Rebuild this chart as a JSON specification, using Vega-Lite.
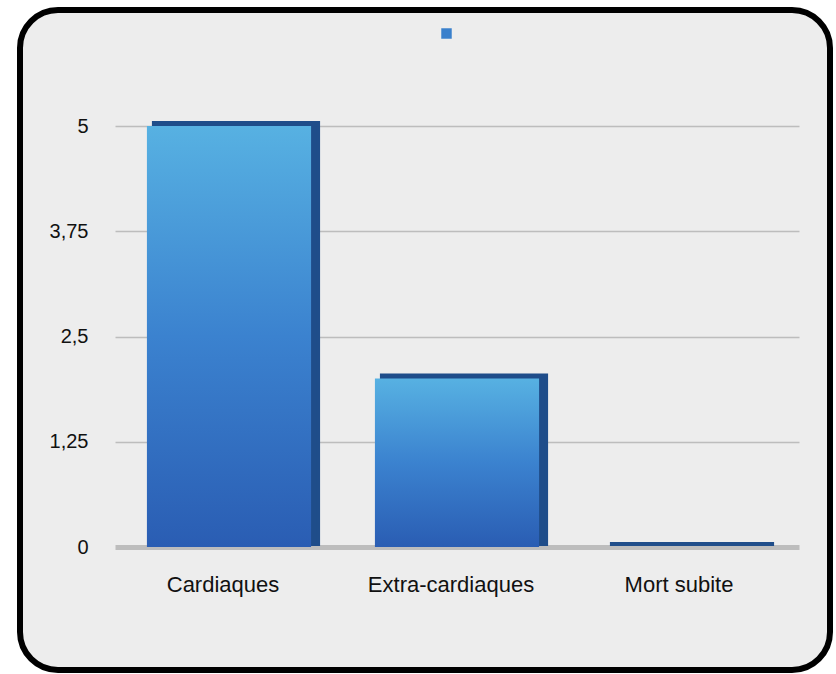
{
  "$schema": "https://vega.github.io/schema/vega-lite/v6.json",
  "width": 810,
  "height": 660,
  "autosize": {"type": "none"},
  "padding": {"left": 20, "top": 10, "right": 6, "bottom": 4},
  "background": "#ffffff",
  "config": {
    "font": "Liberation Sans",
    "view": {"fill": "#ededed", "stroke": "#000000", "strokeWidth": 6, "cornerRadius": 38}
  },
  "data": {
    "values": [
      {"categorie": "Cardiaques", "valeur": 5, "serie": ""},
      {"categorie": "Extra-cardiaques", "valeur": 2, "serie": ""},
      {"categorie": "Mort subite", "valeur": 0, "serie": ""}
    ]
  },
  "encoding": {
    "x": {
      "field": "categorie", "type": "nominal", "sort": null,
      "scale": {"range": [95, 779], "paddingInner": 0.28, "paddingOuter": 0.14},
      "axis": {
        "title": null, "labelAngle": 0, "orient": "bottom", "offset": -123,
        "domain": false, "ticks": false, "labelPadding": 27, "labelOffset": -6,
        "labelFontSize": 22, "labelColor": "#111111", "labelFont": "Liberation Sans", "grid": false
      }
    },
    "y": {
      "field": "valeur", "type": "quantitative",
      "scale": {"domain": [0, 5], "range": [537, 116], "nice": false, "zero": true},
      "axis": {
        "title": null, "offset": -95, "values": [0, 1.25, 2.5, 3.75, 5],
        "labelExpr": "replace(format(datum.value, '~g'), '.', ',')",
        "domain": false, "ticks": false, "labelPadding": 27,
        "labelFontSize": 20, "labelColor": "#111111", "labelFont": "Liberation Sans",
        "grid": true, "gridColor": "#bdbdbd",
        "gridWidth": {"condition": {"test": "datum.value === 0", "value": 5}, "value": 1.5}
      }
    }
  },
  "layer": [
    {
      "mark": {"type": "bar", "color": "#1f4d8a", "stroke": "#1f4d8a", "strokeWidth": 4, "xOffset": 7, "yOffset": -3}
    },
    {
      "mark": {"type": "bar", "color": {"gradient": "linear", "x1": 0, "y1": 0, "x2": 0, "y2": 1,
            "stops": [{"offset": 0, "color": "#57b1e2"}, {"offset": 0.5, "color": "#3b82cf"}, {"offset": 1, "color": "#2a5db3"}]}}
    },
    {
      "mark": {"type": "point", "filled": true, "opacity": 0, "shape": "square"},
      "encoding": {
        "color": {
          "field": "serie", "type": "nominal",
          "scale": {"range": ["#3a80cc"]},
          "legend": {
            "orient": "none", "legendX": 421, "legendY": 18, "title": null,
            "symbolType": "square", "symbolSize": 110, "symbolOpacity": 1, "labelExpr": "''", "symbolStrokeWidth": 0
          }
        }
      }
    }
  ]
}
